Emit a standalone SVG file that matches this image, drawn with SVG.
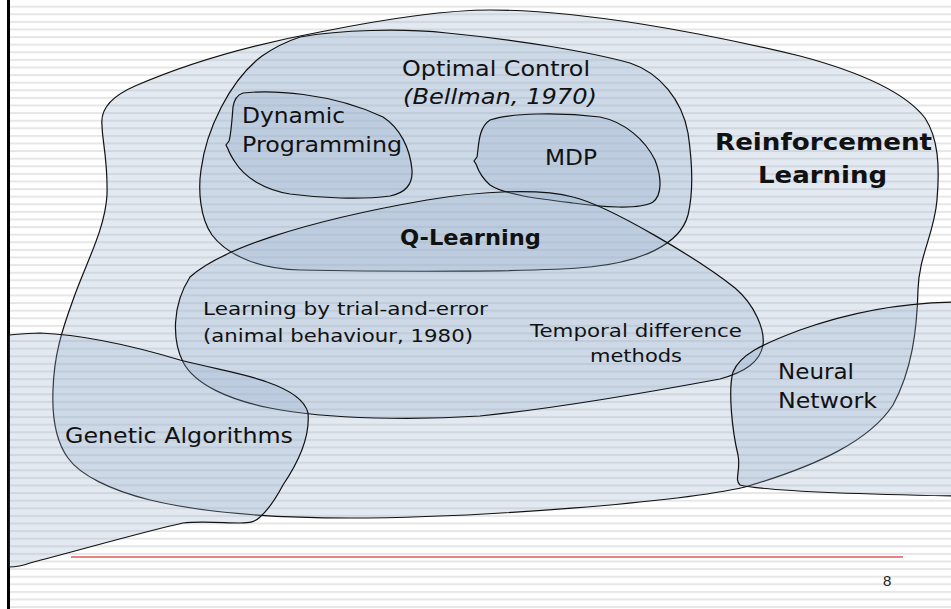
<svg xmlns="http://www.w3.org/2000/svg" width="951" height="609" viewBox="0 0 951 609">
<defs>
<pattern id="lines" x="0" y="5.7" width="951" height="7.6" patternUnits="userSpaceOnUse">
<rect x="0" y="0" width="951" height="2" fill="#e6e6e6"/>
</pattern>
</defs>
<style>
.blob{fill:#94aecd;fill-opacity:0.27;stroke:#111;stroke-width:1.2}
.t{font-family:"DejaVu Sans",Verdana,sans-serif;fill:#111}
.b{font-weight:bold}
</style>
<rect x="0" y="0" width="951" height="609" fill="#fff"/>
<rect x="10" y="0" width="941" height="609" fill="url(#lines)"/>
<rect x="7" y="0" width="3" height="609" fill="#000"/>
<line x1="71" y1="557" x2="903" y2="557" stroke="#e05a5a" stroke-width="1.6"/>

<g id="reinforcement-learning">
<path class="blob" d="M102,125 C100,108 112,96 135,86 C190,62 250,45 320,32 C380,20 440,10 490,10 C580,10 700,32 800,56 C860,72 905,92 925,118 C938,138 940,165 937,200 C934,235 919,255 918,290 C917,330 912,370 893,405 C870,440 820,465 745,487 C680,502 480,518 350,518 C270,518 200,512 150,500 C110,490 80,475 68,458 C55,440 52,415 53,390 C54,355 62,330 73,300 C85,265 105,230 107,195 C108,160 102,140 102,125 Z"/>
<text class="t b" x="715" y="150" font-size="23" textLength="217" lengthAdjust="spacingAndGlyphs">Reinforcement</text>
<text class="t b" x="758" y="183" font-size="23" textLength="129" lengthAdjust="spacingAndGlyphs">Learning</text>
</g>

<g id="optimal-control">
<path class="blob" d="M300,37 C340,30 400,28 447,33 C520,40 590,52 630,63 C660,73 682,100 688,133 C692,160 694,190 688,215 C680,245 640,262 590,267 C540,272 400,272 300,270 C260,269 228,256 212,235 C200,218 198,190 201,170 C206,130 230,80 262,56 C275,47 288,41 300,37 Z"/>
<text class="t" x="402" y="76" font-size="22" textLength="188" lengthAdjust="spacingAndGlyphs">Optimal Control</text>
<text class="t" x="403" y="104" font-size="22" font-style="italic" textLength="194" lengthAdjust="spacingAndGlyphs">(Bellman, 1970)</text>
</g>

<g id="dynamic-programming">
<path class="blob" d="M243,93 C270,90 330,92 383,117 C400,128 410,148 412,170 C413,185 405,193 390,196 C360,200 320,198 290,194 C265,190 245,178 235,162 C231,156 229,152 228,149 L226,145 L229,141 C231,135 232,120 233,107 C234,100 237,95 243,93 Z"/>
<text class="t" x="242" y="123" font-size="22" textLength="103" lengthAdjust="spacingAndGlyphs">Dynamic</text>
<text class="t" x="242" y="152" font-size="22" textLength="160" lengthAdjust="spacingAndGlyphs">Programming</text>
</g>

<g id="mdp">
<path class="blob" d="M490,120 C510,113 560,112 600,117 C625,122 645,140 655,160 C662,178 662,195 653,202 C640,210 600,207 573,203 C540,199 505,195 490,185 C482,178 478,170 476,164 L474,161 L477,157 C479,145 478,128 490,120 Z"/>
<text class="t" x="545" y="165" font-size="22" textLength="52" lengthAdjust="spacingAndGlyphs">MDP</text>
</g>

<g id="q-learning">
<path class="blob" d="M190,277 C220,250 300,222 427,200 C480,191 540,188 573,197 C610,206 700,260 735,288 C755,305 765,330 763,345 C760,362 745,372 720,379 C650,392 560,408 480,416 C420,420 330,420 270,408 C230,400 195,385 183,362 C172,340 172,305 190,277 Z"/>
<text class="t b" x="400" y="245" font-size="21" textLength="141" lengthAdjust="spacingAndGlyphs">Q-Learning</text>
<text class="t" x="203" y="315" font-size="17" textLength="285" lengthAdjust="spacingAndGlyphs">Learning by trial-and-error</text>
<text class="t" x="203" y="342" font-size="17" textLength="270" lengthAdjust="spacingAndGlyphs">(animal behaviour, 1980)</text>
<text class="t" x="530" y="337" font-size="18" textLength="212" lengthAdjust="spacingAndGlyphs">Temporal difference</text>
<text class="t" x="590" y="362" font-size="18" textLength="92" lengthAdjust="spacingAndGlyphs">methods</text>
</g>

<g id="genetic-algorithms">
<path class="blob" d="M9,335 C20,334 30,333 40,333 C90,335 140,348 180,360 C220,370 250,375 267,382 C290,390 305,400 308,413 C310,435 300,460 283,485 C275,500 268,510 260,517 C255,522 250,523 240,523 C225,523 200,521 183,523 C150,530 80,550 30,563 C22,566 15,567 9,567 Z"/>
<text class="t" x="65" y="443" font-size="22" textLength="228" lengthAdjust="spacingAndGlyphs">Genetic Algorithms</text>
</g>

<g id="neural-network">
<path class="blob" d="M953,302 C900,303 850,312 800,330 C760,345 740,355 733,372 C728,390 732,430 738,455 C741,470 734,480 740,485 C760,490 850,494 953,496 Z"/>
<text class="t" x="778" y="379" font-size="22" textLength="76" lengthAdjust="spacingAndGlyphs">Neural</text>
<text class="t" x="778" y="408" font-size="22" textLength="99" lengthAdjust="spacingAndGlyphs">Network</text>
</g>

<text x="883" y="586" font-family="Liberation Sans, Arial, sans-serif" font-size="15" fill="#222">8</text>
</svg>
